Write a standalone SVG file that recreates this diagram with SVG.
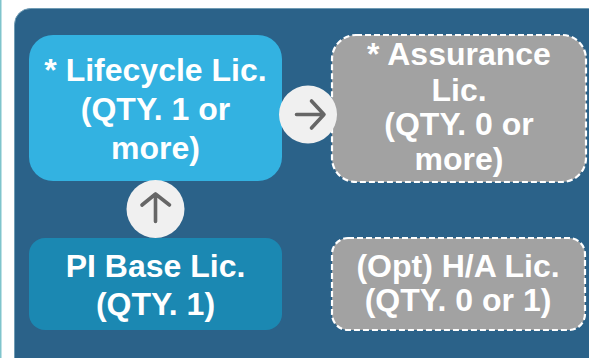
<svg xmlns="http://www.w3.org/2000/svg" width="589" height="358" viewBox="0 0 589 358">
<style>
text{font-family:"Liberation Sans",Arial,sans-serif;font-weight:700;font-size:32px;fill:#fff;text-anchor:middle}
.opt{fill:#a2a2a2;stroke:#fff;stroke-width:2.2;stroke-dasharray:6 3}
.c{fill:#f0f0f0}
.a{fill:none;stroke:#666;stroke-width:3.6;stroke-linecap:round;stroke-linejoin:round}
</style>
<rect width="589" height="358" fill="#fff"/>
<rect x="0" y="0" width="1.5" height="358" fill="#7fc4cc"/>
<g id="container"><rect x="14.5" y="8.5" width="590" height="370" rx="16" fill="#2b6289" stroke="#6f9bb3" stroke-width="1"/></g>
<g id="lifecycle"><rect x="29" y="35" width="253" height="146" rx="24" fill="#33b2e1"/>
<text x="155.500" y="81">* Lifecycle Lic.</text><text x="155.500" y="120">(QTY. 1 or</text><text x="155.500" y="159">more)</text></g>
<g id="assurance"><rect x="332" y="35" width="254" height="147" rx="24" class="opt"/>
<text x="459" y="65">* Assurance</text><text x="459" y="101">Lic.</text><text x="459" y="135">(QTY. 0 or</text><text x="459" y="170">more)</text></g>
<g id="base"><rect x="29" y="238" width="253" height="92" rx="16" fill="#1b88b2"/>
<text x="155.500" y="277">PI Base Lic.</text><text x="155.500" y="315">(QTY. 1)</text></g>
<g id="ha"><rect x="332" y="238" width="253" height="92" rx="16" class="opt"/>
<text x="458" y="277">(Opt) H/A Lic.</text><text x="458" y="311">(QTY. 0 or 1)</text></g>
<g id="connectors">
<circle class="c" cx="308" cy="114.500" r="29"/><path class="a" d="M296.500 114.500H324M311.500 101L324 114.500L311.500 128"/>
<circle class="c" cx="155.500" cy="209" r="29"/><path class="a" d="M155.500 221.500V194M142 205L155.500 194L169.500 205"/>
</g>
</svg>
